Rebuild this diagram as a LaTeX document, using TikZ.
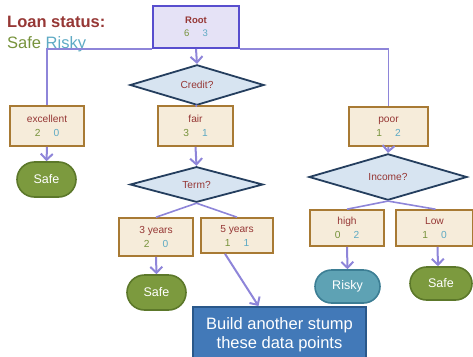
\documentclass[tikz,border=0pt]{standalone}
\usepackage{fontspec}
\setmainfont{Liberation Sans}
\usetikzlibrary{shapes.geometric,shapes.misc,arrows.meta,positioning}

\definecolor{labelred}{RGB}{150,55,53}
\definecolor{safegreen}{RGB}{119,147,60}
\definecolor{riskyblue}{RGB}{94,170,196}
\definecolor{rootfill}{RGB}{229,226,246}
\definecolor{rootedge}{RGB}{88,78,206}
\definecolor{boxfill}{RGB}{246,236,218}
\definecolor{boxedge}{RGB}{168,122,52}
\definecolor{testfill}{RGB}{215,228,241}
\definecolor{testedge}{RGB}{36,62,94}
\definecolor{safefill}{RGB}{124,154,62}
\definecolor{safeedge}{RGB}{92,120,42}
\definecolor{riskyfill}{RGB}{94,162,180}
\definecolor{riskyedge}{RGB}{60,126,148}
\definecolor{stumpfill}{RGB}{66,121,184}
\definecolor{stumpedge}{RGB}{42,88,138}
\definecolor{linkpurple}{RGB}{142,133,217}

% safe / risky counts under a split label
\newcommand{\tally}[2]{{\color{safegreen}#1}\hspace{13pt}{\color{riskyblue}#2}}

\begin{document}
\begin{tikzpicture}[
    x=1pt, y=-1pt,
    split/.style={rectangle, draw=boxedge, fill=boxfill, line width=1.6pt, text=labelred, align=center, font=\fontsize{10.2}{14}\selectfont, inner sep=0pt},
    test/.style={diamond, draw=testedge, fill=testfill, line width=1.8pt, inner sep=0pt, text=labelred, font=\fontsize{10.2}{12}\selectfont},
    leaf/.style={rounded rectangle, line width=1.6pt, text=white, minimum width=59pt, minimum height=35pt, inner sep=0pt, font=\fontsize{12.5}{14}\selectfont},
    safe/.style={leaf, draw=safeedge, fill=safefill},
    risky/.style={leaf, draw=riskyedge, fill=riskyfill},
    arrow/.style={-{Straight Barb[length=6pt,width=12pt]}, draw=linkpurple, line width=2pt},
    link/.style={draw=linkpurple, line width=1.6pt}
]
    \useasboundingbox (0,0) rectangle (473,356);

    % legend
    \node[anchor=base west, inner sep=0pt, text=labelred, font=\fontsize{16.5}{20}\selectfont\bfseries] (title) at (7,27) {Loan status:};
    \node[anchor=base west, inner sep=0pt, font=\fontsize{16.5}{20}\selectfont] (legend) at (7,48) {{\color{safegreen}Safe} {\color{riskyblue}Risky}};

    % tree
    \node[rectangle, draw=rootedge, fill=rootfill, line width=2pt, align=center, minimum width=86pt, minimum height=42pt, text=labelred, font=\fontsize{9.5}{13}\selectfont] (root) at (196,27) {\textbf{Root}\\\tally{6}{3}};
    \node[test, minimum width=134pt, minimum height=30pt] (credit) at (197,85) {Credit?};

    \node[split, minimum width=74pt, minimum height=40pt] (excellent) at (47,126) {excellent\\\tally{2}{0}};
    \node[split, minimum width=75pt, minimum height=40pt] (fair) at (195.5,126) {fair\\\tally{3}{1}};
    \node[split, minimum width=79pt, minimum height=39pt] (poor) at (388.5,126.5) {poor\\\tally{1}{2}};

    \node[safe] (safeA) at (46.5,179.5) {Safe};
    \node[test, minimum width=133pt, minimum height=25pt] (term) at (196.5,184.5) {Term?};
    \node[test, minimum width=158pt, minimum height=26pt] (income) at (388,177) {Income?};

    \node[split, minimum width=74pt, minimum height=38pt] (three) at (156,237) {3 years\\\tally{2}{0}};
    \node[split, minimum width=72pt, minimum height=35pt] (five) at (237,235.5) {5 years\\\tally{1}{1}};
    \node[split, minimum width=74pt, minimum height=36pt] (high) at (347,228) {high\\\tally{0}{2}};
    \node[split, minimum width=77pt, minimum height=36pt] (low) at (434.5,228) {Low\\\tally{1}{0}};

    \node[safe] (safeB) at (156.5,292.5) {Safe};
    \node[risky, minimum width=65pt, minimum height=33pt] (risky) at (347.5,286.5) {Risky};
    \node[safe, minimum width=62pt, minimum height=33pt] (safeC) at (441,283.5) {Safe};

    \node[rectangle, draw=stumpedge, fill=stumpfill, line width=2pt, text=white, align=center, minimum width=173pt, minimum height=55pt, font=\fontsize{16.5}{19}\selectfont] (stump) at (279.5,334.5) {Build another stump\\these data points};

    % connectors
    \draw[link] (root.south west) -| (excellent.north);
    \draw[link] (root.south east) -| (poor.north);
    \draw[arrow] (root.south) -- (credit.north);
    \draw[link, line width=2pt] (credit.south) -- (fair.north);
    \draw[arrow] (excellent.south) -- (safeA.north);
    \draw[arrow] (fair.south) -- (term.north);
    \draw[arrow] (poor.south) -- (income.north);
    \draw[link] (term.south) -- (three.north);
    \draw[link] (term.south) -- (five.north);
    \draw[link] (income.south) -- (high.north);
    \draw[link] (income.south) -- ([xshift=1pt]low.north);
    \draw[arrow] (three.south) -- (safeB.north);
    \draw[arrow] (high.south) -- (risky.north);
    \draw[arrow] ([xshift=3pt]low.south) -- ([xshift=-3pt]safeC.north);
    \draw[arrow] ([xshift=-12pt]five.south) -- ([xshift=-21pt]stump.north);
\end{tikzpicture}
\end{document}
